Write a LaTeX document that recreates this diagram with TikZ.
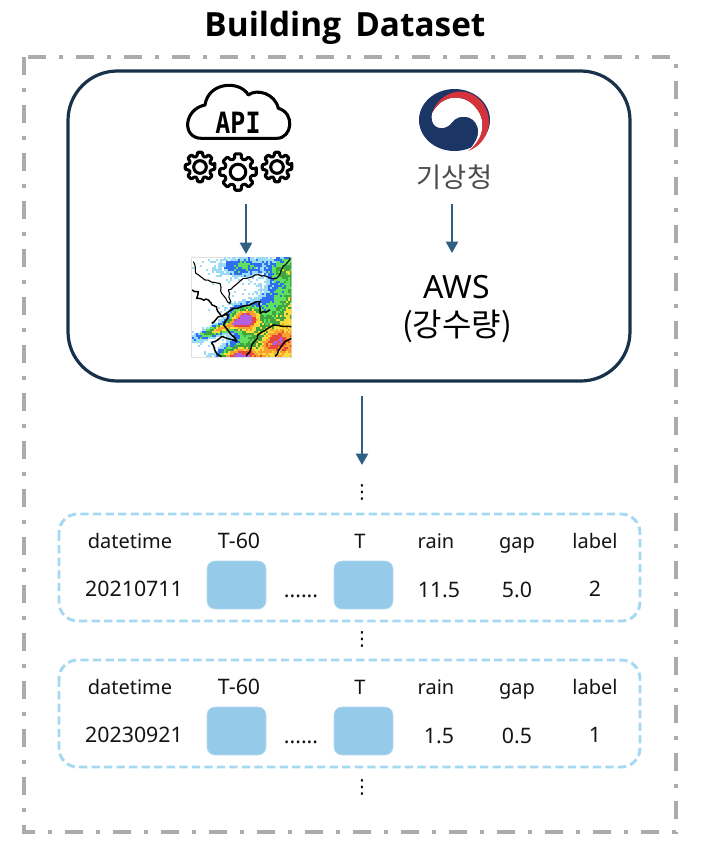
\documentclass[tikz,border=0pt]{standalone}
\usepackage{fontspec}
\setmainfont{Noto Sans}
\newfontfamily\titlefont{Open Sans}
\newfontfamily\krfont{Noto Sans CJK KR}
\newfontfamily\apifont{DejaVu Sans Mono}
\newfontfamily\dotsfont{DejaVu Sans}
\usetikzlibrary{arrows.meta, decorations.pathmorphing}

\definecolor{framegray}{HTML}{ABABAB}
\definecolor{boxnavy}{HTML}{17324A}
\definecolor{flowblue}{HTML}{2F5F82}
\definecolor{rowblue}{HTML}{A5D8F3}
\definecolor{cellblue}{HTML}{95CBE9}
\definecolor{kmablue}{HTML}{1B3564}
\definecolor{kmared}{HTML}{D5323C}
% radar levels
\definecolor{rad1}{HTML}{9ADCF5}
\definecolor{rad2}{HTML}{2F6FEF}
\definecolor{rad3}{HTML}{5FE05F}
\definecolor{rad4}{HTML}{3FA53F}
\definecolor{rad5}{HTML}{F7DC3C}
\definecolor{rad6}{HTML}{F5A030}
\definecolor{rad7}{HTML}{E8483A}
\definecolor{rad8}{HTML}{B060E0}

\tikzset{
	flow/.style = {draw = flowblue, line width = 1.8pt, -{Triangle[length = 8.5pt, width = 9pt]}},
	rowbox/.style = {draw = rowblue, line width = 2.2pt, rounded corners = 14pt, dash pattern = on 6.2pt off 3.2pt},
	cell/.style = {fill = cellblue, draw = cellblue!70!white, line width = 0.5pt, rounded corners = 6pt},
	txt/.style = {anchor = base, font = \fontsize{15}{18}\selectfont, text = black!92},
	num/.style = {anchor = base, font = \fontsize{16}{18}\selectfont, text = black!92},
	vdotsmark/.style = {font = \dotsfont\fontsize{14.5}{20}\selectfont},
	coast/.style = {black, line width = 1.1pt, line join = round, decorate, decoration = {random steps, segment length = 2.5pt, amplitude = 0.8pt}},
	gearicon/.pic = {
		\draw[line width = 2.3pt, line join = round, rounded corners = 0.8pt] (-10:1)
			\foreach \a in {0, 45, ..., 315} { -- (\a-10:1) -- (\a+10:1) -- (\a+15:0.74) -- (\a+30:0.74) } -- cycle;
		\draw[line width = 2.3pt] (0,0) circle (0.42);
	}
}

\begin{document}
\begin{tikzpicture}[x = 0.75pt, y = -0.75pt]
	\useasboundingbox (0,0) rectangle (706,858);

	% title and outer frame
	\node[anchor = base] (title) at (345, 36) {\titlefont\fontsize{25}{28}\selectfont\bfseries Building\, Dataset};
	\draw[framegray, line width = 3pt, dash pattern = on 13.5pt off 9.5pt on 3.5pt off 9.5pt] (24,57) rectangle (676,832);

	% source box
	\draw[boxnavy, line width = 2.4pt, rounded corners = 37pt] (68,71) rectangle (630,381);

	% api cloud
	\begin{scope}[shift = {(170,70)}, scale = 1/3]
		\draw[line width = 2.3pt, line join = round] (95,205) -- (320,205)
			.. controls (368,205) and (375,128) .. (325,115)
			.. controls (315,70) and (260,55) .. (235,75)
			.. controls (210,30) and (115,35) .. (105,105)
			.. controls (40,118) and (35,205) .. (95,205) -- cycle;
	\end{scope}
	\node[xscale = 0.85] (api) at (238, 123) {\apifont\fontsize{22}{24}\selectfont\bfseries API};
	\pic[scale = 15] at (200, 167) {gearicon};
	\pic[scale = 18.5] at (238, 172) {gearicon};
	\pic[scale = 15] at (277, 167) {gearicon};

	% kma logo
	\begin{scope}[shift = {(400,80)}, scale = 1/3]
		\fill[kmablue] (163.5,120) ellipse (106.5 and 93);
		\fill[white] (97,98) .. controls (125,45) and (185,40) .. (220,75)
			.. controls (262,115) and (255,175) .. (205,213)
			.. controls (230,185) and (240,160) .. (232,140)
			.. controls (222,105) and (175,100) .. (155,128)
			.. controls (140,150) and (105,150) .. (97,125)
			.. controls (94,115) and (94,105) .. (97,98) -- cycle;
		\fill[kmared] (97,98) .. controls (115,40) and (190,10) .. (240,60)
			.. controls (290,115) and (265,190) .. (205,213)
			.. controls (255,175) and (262,115) .. (220,75)
			.. controls (185,40) and (125,45) .. (97,98) -- cycle;
	\end{scope}
	\node (kma) at (454.5, 177) {\krfont\fontsize{20.5}{22}\selectfont\addfontfeatures{LetterSpace=2}\color{black!70}기상청};

	% radar map
	\node[draw = black!12, line width = 0.8pt, minimum width = 75pt, minimum height = 75pt, inner sep = 0pt] (radar) at (241.5, 307.5) {};
	\begin{scope}[shift = {(180,245)}, scale = 1/3]
		\clip (36,36) rectangle (334,334);
		\pgfmathsetseed{711}
		\foreach \x in {36, 42, ..., 330} {
			\foreach \y in {36, 42, ..., 330} {
				\pgfmathtruncatemacro{\lev}{min(8, rnd*1.3 - 0.3
					+ min(5, max(0, (\x + 0.6*\y - 295)/30))
					+ 3*exp(-((\x-185)/62)^2 - ((\y-62)/28)^2)
					+ 2.5*exp(-((\x-300)/45)^2 - ((\y-70)/34)^2)
					+ 7.6*exp(-((\x-190)/42)^2 - ((\y-220)/38)^2)
					+ 5.6*exp(-((\x-115)/65)^2 - ((\y-250 + 0.35*(\x-115))/15)^2)
					+ 6*exp(-((\x-170)/55)^2 - ((\y-335)/32)^2)
					+ 2.5*exp(-((\x-290)/50)^2 - ((\y-285)/35)^2))}
				\ifnum\lev>0
					\fill[rad\lev] (\x,\y) rectangle ++(6.4,6.4);
				\fi
			}
		}
		% borders
		\draw[coast, line width = 0.8pt] (40,50) -- (48,85) -- (75,105) -- (120,115) -- (125,145) -- (150,175) -- (145,135) -- (190,100) -- (225,90) -- (290,100) -- (315,60) -- (330,40);
		\draw[coast] (36,135) -- (55,140) -- (50,160) -- (85,165) -- (110,190) -- (125,215) -- (160,190) -- (210,180) -- (240,170) -- (240,205) -- (270,195);
		\draw[coast] (95,235) -- (115,215) -- (145,210) -- (130,240) -- (150,265) -- (170,290) -- (125,275) -- (95,295) -- (110,325) -- (125,334);
		\draw[coast] (334,245) -- (280,240) -- (240,265) -- (215,300) -- (200,334);
		\draw[coast] (285,334) -- (315,290) -- (334,280);
	\end{scope}

	% aws
	\node (aws) at (457, 287) {\fontsize{24}{28}\selectfont AWS};
	\node (rainfall) at (457, 326) {\krfont\fontsize{24}{28}\selectfont (강수량)};

	% arrows
	\coordinate (apiout) at (246, 204);
	\coordinate (radarin) at (246, 254);
	\coordinate (kmaout) at (452, 204);
	\coordinate (awsin) at (452, 253);
	\coordinate (boxout) at (362, 396);
	\coordinate (rowsin) at (362, 465);
	\draw[flow] (apiout) -- (radarin);
	\draw[flow] (kmaout) -- (awsin);
	\draw[flow] (boxout) -- (rowsin);

	% vertical dots
	\node[vdotsmark] (dotsa) at (362, 492) {⋮};
	\node[vdotsmark] (dotsb) at (362, 639) {⋮};
	\node[vdotsmark] (dotsc) at (362, 787) {⋮};

	% dataset rows
	\foreach \name/\yy/\stamp/\rain/\gap/\lab in {rowa/0/20210711/11.5/5.0/2, rowb/146/20230921/1.5/0.5/1} {
		\begin{scope}[yshift = -0.75*\yy pt]
			\draw[rowbox] (59,514) rectangle (640,621);
			\draw[cell] (207,561) rectangle (266,609);
			\draw[cell] (334,561) rectangle (393,609);
			\node[txt] (\name date) at (130,548) {datetime};
			\node[num] (\name first) at (239,548) {T-60};
			\node[txt] (\name last) at (360,548) {T};
			\node[txt] (\name rain) at (436,548) {rain};
			\node[txt] (\name gap) at (517,548) {gap};
			\node[txt] (\name label) at (595,548) {label};
			\node[num] (\name stamp) at (134,596) {\stamp};
			\node[num] (\name more) at (301,597) {......};
			\node[num] (\name rainval) at (439,597) {\rain};
			\node[num] (\name gapval) at (517,597) {\gap};
			\node[num] (\name labval) at (595,596) {\lab};
		\end{scope}
	}
\end{tikzpicture}
\end{document}
